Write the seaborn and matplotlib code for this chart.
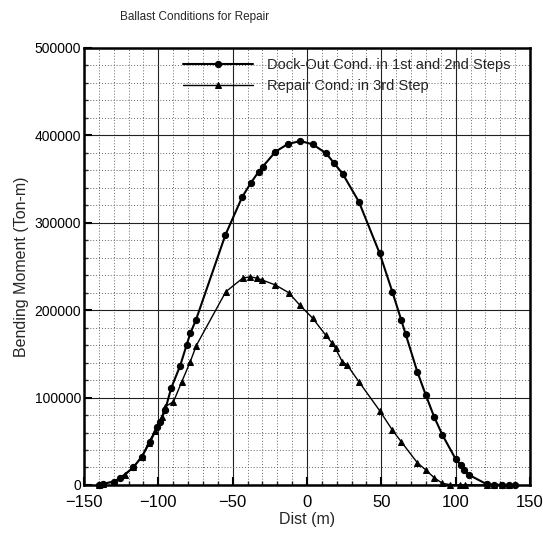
import numpy as np
import pandas as pd
import matplotlib
matplotlib.use('Agg')
import matplotlib.pyplot as plt
from matplotlib.ticker import MultipleLocator
import seaborn as sns

# curva 1: Dock-Out (circulos)
dock_x = [-140, -137, -130, -125.7, -116.8, -111.1, -105.5, -100.6, -98.8, -95.4,
          -91.4, -85.3, -81, -78.5, -74.7, -54.9, -43.7, -37.7, -32.5, -29.8,
          -21.2, -12.9, -4.4, 3.9, 12.9, 18.0, 24.1, 34.9, 48.9, 57.4,
          63.4, 66.4, 74.2, 79.9, 85.5, 91.1, 100.1, 103.5, 105.7, 109.1,
          121, 126, 131, 136, 140]
dock_y = [500, 1500, 3800, 7700, 20200, 32400, 49500, 66700, 72400, 85800,
          110600, 136500, 160000, 173500, 188800, 286000, 329100, 345800, 358400, 364100,
          381300, 390100, 393500, 389700, 379400, 368700, 355800, 324100, 265000, 221100,
          188800, 172400, 129600, 103000, 78100, 57200, 29400, 22900, 17200, 11400,
          800, 300, 100, 0, 0]

# curva 2: Repair (triangulos)
rep_x = [-140, -137, -130, -122.4, -116.8, -111, -106.6, -102.1, -97.6, -95.4,
         -89.8, -84.2, -78.5, -74.5, -54.6, -43.3, -38.1, -33.6, -30.2, -21.2,
         -12.3, -4.9, 3.9, 12.5, 17.0, 19.2, 23.7, 27.0, 34.9, 48.9,
         57.4, 63.4, 74.2, 79.9, 85.5, 91.1, 96.5, 103, 106, 121,
         126, 131, 136]
rep_y = [500, 1500, 3800, 11400, 20200, 32400, 48400, 62100, 78100, 89600,
         95300, 118200, 141100, 159400, 221100, 236500, 238300, 236500, 234500, 228800,
         220000, 205900, 190700, 171600, 162100, 156400, 141100, 137300, 118200, 85000,
         62900, 49500, 25500, 17200, 8400, 1900, 300, 0, 0, 0,
         0, 0, 0]

labels = ['Dock-Out Cond. in 1st and 2nd Steps', 'Repair Cond. in 3rd Step']

sns.set_theme(style='ticks')
plt.rcParams['font.family'] = ['Liberation Sans', 'DejaVu Sans']

fig = plt.figure(figsize=(5.43, 5.40), dpi=100)
ax = fig.add_axes([0.1547, 0.1019, 0.8213, 0.8093])

sns.lineplot(x=dock_x, y=dock_y, ax=ax, color='black', marker='o', markersize=4.5,
             linewidth=1.5, markeredgecolor='black', label=labels[0], clip_on=False)
sns.lineplot(x=rep_x, y=rep_y, ax=ax, color='black', marker='^', markersize=4.5,
             linewidth=1.0, markeredgecolor='black', label=labels[1], clip_on=False)

ax.set_xlim(-150, 150)
ax.set_ylim(0, 500000)
ax.xaxis.set_major_locator(MultipleLocator(50))
ax.xaxis.set_minor_locator(MultipleLocator(10))
ax.yaxis.set_major_locator(MultipleLocator(100000))
ax.yaxis.set_minor_locator(MultipleLocator(20000))
ax.set_yticklabels([f'{int(v)}' for v in ax.get_yticks()])

ax.grid(which='major', color='#222222', linewidth=0.8, linestyle='-')
ax.grid(which='minor', color='#666666', linewidth=0.7, linestyle=(0, (1, 2)))
ax.set_axisbelow(True)

ax.tick_params(which='major', direction='in', length=6, width=1.5, labelsize=10,
               colors='black', pad=2)
ax.tick_params(axis='x', which='major', labelsize=12, pad=7)
ax.tick_params(which='minor', direction='in', length=3, width=1)
for s in ax.spines.values():
    s.set_linewidth(1.8)
    s.set_color('black')

ax.set_xlabel('Dist (m)', fontsize=11.5, labelpad=2)
ax.set_ylabel('Bending Moment (Ton-m)', fontsize=11.5)

leg = ax.legend(loc='upper left', bbox_to_anchor=(0.2, 1.0), frameon=False,
                fontsize=10.5, handlelength=4.8, handletextpad=0.9,
                labelspacing=0.45, borderaxespad=0.3)

fig.text(0.221, 0.968, 'Ballast Conditions for Repair', fontsize=8.5, ha='left', va='center')

fig.savefig('out.png', dpi=100)
